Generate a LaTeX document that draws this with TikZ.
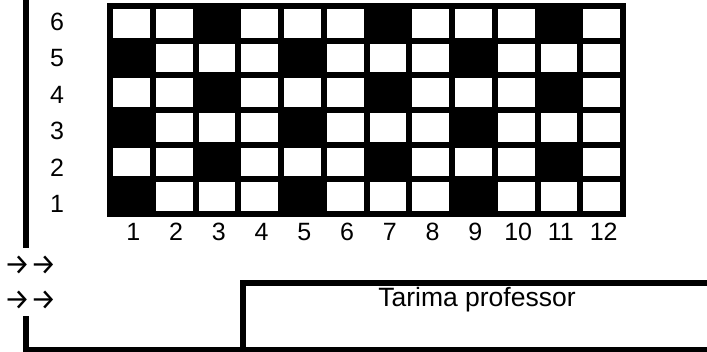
\documentclass[tikz,border=0pt]{standalone}
\usepackage{fontspec}
\setmainfont{Liberation Sans}
\newfontfamily\arrowfont{Fira Sans}
\begin{document}
\begin{tikzpicture}[x=1pt,y=-1pt,
  wall/.style={line width=6pt, line cap=butt, line join=miter},
  lbl/.style={font=\fontsize{26.5}{30}\selectfont, inner sep=0pt},
  num/.style={font=\fontsize{25}{30}\selectfont, inner sep=0pt, anchor=base},
  arr/.style={font=\arrowfont\fontsize{29}{32}\selectfont, inner sep=0pt},
  cellw/.style={fill=white, draw=none},
]
\useasboundingbox (0,0) rectangle (707,351);
% grid background
\fill[black] (107,3) rectangle (626,217);
\foreach \r in {1,...,6} {
  \foreach \c in {1,...,12} {
    \pgfmathtruncatemacro\k{mod(\c + 2*mod(\r+1,2),4)}
    \pgfmathsetmacro\xa{113+(\c-1)*42.75}
    \pgfmathsetmacro\ya{9+(6-\r)*34.67}
    \ifnum\k=1\else
      \fill[cellw] (\xa,\ya) rectangle ++(36.75,28.67);
    \fi
  }
}
% row labels
\foreach \r in {1,...,6} {
  \node[num] (r\r) at (57,{30+(6-\r)*36.5}) {\r};
}
% column labels
\foreach \c in {1,...,12} {
  \node[num] (c\c) at ({133.4+(\c-1)*42.75},240) {\c};
}
% arrows
\node[arr, anchor=west] (a1) at (4,265) {→→};
\node[arr, anchor=west] (a2) at (4,300) {→→};
% walls
\coordinate (wTop) at (26,0);
\coordinate (wGapA) at (26,248);
\coordinate (wGapB) at (26,316);
\coordinate (wCorner) at (26,350);
\coordinate (wEnd) at (707,350);
\draw[wall] (wTop) -- (wGapA);
\draw[wall] (wGapB) -- (wCorner) -- (wEnd);
% tarima
\coordinate (tBot) at (243,351);
\coordinate (tCorner) at (243,283);
\coordinate (tEnd) at (707,283);
\draw[wall] (tBot) -- (tCorner) -- (tEnd);
\node[lbl, anchor=base] (tarima) at (477,306) {Tarima professor};
\end{tikzpicture}
\end{document}
